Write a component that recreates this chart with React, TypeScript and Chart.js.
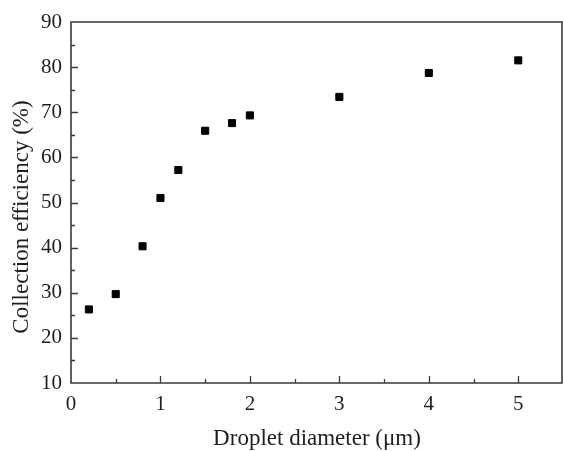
import React, { useEffect, useRef } from "react";
import { Chart, registerables } from "chart.js";

Chart.register(...registerables);

const diameters = [0.2, 0.5, 0.8, 1.0, 1.2, 1.5, 1.8, 2.0, 3.0, 4.0, 5.0];
const efficiencies = [26.3, 29.7, 40.3, 51.0, 57.2, 65.9, 67.6, 69.3, 73.4, 78.7, 81.5];

const xTitle = "Droplet diameter (\u03bcm)";
const yTitle = "Collection efficiency (%)";
const xRange = [0, 5.5];
const yRange = [10, 90];
const xMajorStep = 1;
const xMinorStep = 0.5;
const yMajorStep = 10;
const yMinorStep = 5;

const FONT = "'Liberation Serif', 'Times New Roman', serif";
const AXIS_COLOR = "#3a3a3a";
const TEXT_COLOR = "#1e1e1e";

const framePlugin = {
  id: "frameAndTicks",
  afterDatasetsDraw(chart: any) {
    const { ctx, chartArea } = chart;
    const { left, right, top, bottom } = chartArea;
    const xs = chart.scales.x;
    const ys = chart.scales.y;
    ctx.save();
    ctx.strokeStyle = AXIS_COLOR;
    ctx.lineWidth = 1.6;
    ctx.beginPath();
    ctx.rect(left, top, right - left - 1, bottom - top);
    ctx.stroke();

    ctx.lineWidth = 1.3;
    ctx.beginPath();
    for (let v = xRange[0]; v <= xRange[1] + 1e-9; v += xMinorStep) {
      const isMajor = Math.abs(v / xMajorStep - Math.round(v / xMajorStep)) < 1e-6;
      const px = Math.round(xs.getPixelForValue(v)) + 0.5;
      if (px <= left + 1 || px >= right - 1) continue;
      const len = isMajor ? 7 : 4;
      ctx.moveTo(px, bottom);
      ctx.lineTo(px, bottom - len);
    }
    for (let v = yRange[0]; v <= yRange[1] + 1e-9; v += yMinorStep) {
      const isMajor = Math.abs(v / yMajorStep - Math.round(v / yMajorStep)) < 1e-6;
      const py = Math.round(ys.getPixelForValue(v)) + 0.5;
      if (py <= top + 1 || py >= bottom - 1) continue;
      const len = isMajor ? 7 : 4;
      ctx.moveTo(left, py);
      ctx.lineTo(left + len, py);
    }
    ctx.stroke();

    ctx.fillStyle = TEXT_COLOR;
    ctx.font = `23px ${FONT}`;
    ctx.textAlign = "center";
    ctx.textBaseline = "middle";
    ctx.translate(22, 217);
    ctx.rotate(-Math.PI / 2);
    ctx.fillText(yTitle, 0, 0);
    ctx.restore();
  },
};

export default function App() {
  const canvasRef = useRef<HTMLCanvasElement | null>(null);

  useEffect(() => {
    const prevMargin = document.body.style.margin;
    document.body.style.margin = "0";
    const canvas = canvasRef.current;
    if (!canvas) return;
    const chart = new Chart(canvas, {
      type: "scatter",
      data: {
        datasets: [
          {
            label: "Collection efficiency",
            data: diameters.map((d, i) => ({ x: d, y: efficiencies[i] })),
            pointStyle: "rect",
            pointRadius: 5,
            pointHoverRadius: 5,
            backgroundColor: "#000000",
            borderColor: "#000000",
            borderWidth: 1,
            showLine: false,
          },
        ],
      },
      options: {
        animation: false,
        responsive: true,
        maintainAspectRatio: false,
        events: [],
        layout: { autoPadding: false, padding: { top: 22, left: 0, right: 0, bottom: 0 } },
        plugins: {
          legend: { display: false },
          tooltip: { enabled: false },
          title: { display: false },
        },
        scales: {
          x: {
            type: "linear",
            min: xRange[0],
            max: xRange[1],
            grid: { display: false, drawTicks: false },
            border: { display: false },
            ticks: {
              stepSize: xMajorStep,
              includeBounds: false,
              autoSkip: false,
              maxRotation: 0,
              padding: 9,
              color: TEXT_COLOR,
              font: { family: FONT, size: 21 },
              callback: (v: any) => (Number.isInteger(v) ? String(v) : ""),
            },
            title: {
              display: true,
              text: xTitle,
              color: TEXT_COLOR,
              font: { family: FONT, size: 23 },
              padding: { top: 0, bottom: -2 },
            },
            afterFit: (scale: any) => {
              scale.height = 68;
              scale.paddingLeft = 0;
              scale.paddingRight = 0;
            },
          },
          y: {
            type: "linear",
            min: yRange[0],
            max: yRange[1],
            grid: { display: false, drawTicks: false },
            border: { display: false },
            ticks: {
              stepSize: yMajorStep,
              autoSkip: false,
              padding: 9,
              color: TEXT_COLOR,
              font: { family: FONT, size: 21 },
            },
            afterFit: (scale: any) => {
              scale.width = 71;
              scale.paddingTop = 0;
              scale.paddingBottom = 0;
            },
          },
        },
      },
      plugins: [framePlugin],
    });
    return () => {
      chart.destroy();
      document.body.style.margin = prevMargin;
    };
  }, []);

  return (
    <div style={{ position: "fixed", left: 0, top: 0, width: 563, height: 451, background: "#ffffff" }}>
      <canvas ref={canvasRef} />
    </div>
  );
}
